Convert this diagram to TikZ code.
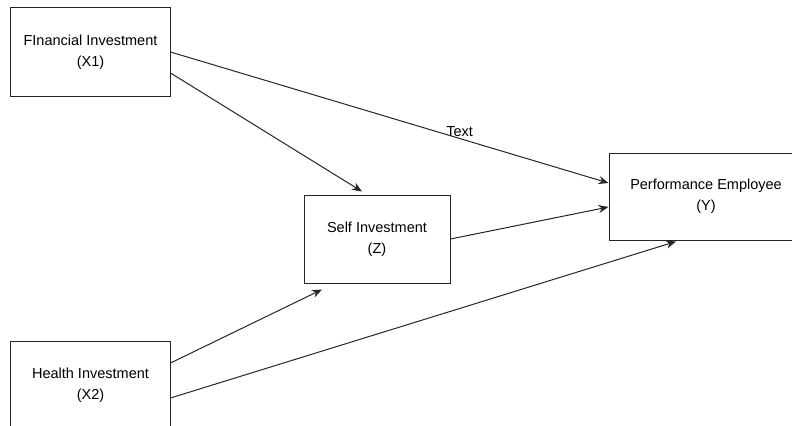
\documentclass[tikz,border=0pt]{standalone}
\usepackage{fontspec}
\setmainfont{Liberation Sans}
\usetikzlibrary{arrows.meta}

\begin{document}
\begin{tikzpicture}[x=1bp,y=1bp,line width=1bp,font=\fontsize{14.5bp}{21bp}\selectfont]
  \tikzset{
  box/.style={
    rectangle,
    draw=black!85,
    inner sep=0pt,
    align=center
  },
  arr/.style={
    -{Stealth[length=10bp,width=8bp]},
    draw=black!85
  }
}
\clip (0,0) rectangle (792,425);
\fill[white] (0,0) rectangle (792,425);

\node[box,minimum width=159bp,minimum height=88bp] at (90.5,373)
  (financialinvestment) {FInancial Investment\\(X1)};
\node[box,minimum width=146bp,minimum height=88bp] at (377,186)
  (selfinvestment) {Self Investment\\(Z)};
\node[box,minimum width=194bp,minimum height=87bp] at (706,228.5)
  (performanceemployee) {Performance Employee\\(Y)};
\node[box,minimum width=159bp,minimum height=88bp] at (90.5,40)
  (healthinvestment) {Health Investment\\(X2)};

  \path
  (financialinvestment.east) edge[arr] node[pos=0.66,yshift=7bp] {Text} ([yshift=13.5bp]performanceemployee.west);

  \draw[arr] ([yshift=-21bp]financialinvestment.east) -- ([xshift=-15bp,yshift=3bp]selfinvestment.north);
  \draw[arr] (selfinvestment.east) -- ([yshift=-10.5bp]performanceemployee.west);

  \draw[arr] ([yshift=22bp]healthinvestment.east) -- ([xshift=-55bp,yshift=-6bp]selfinvestment.south);
  \draw[arr] ([yshift=-13bp]healthinvestment.east) -- ([xshift=-30bp,yshift=-1bp]performanceemployee.south);

\end{tikzpicture}
\end{document}
